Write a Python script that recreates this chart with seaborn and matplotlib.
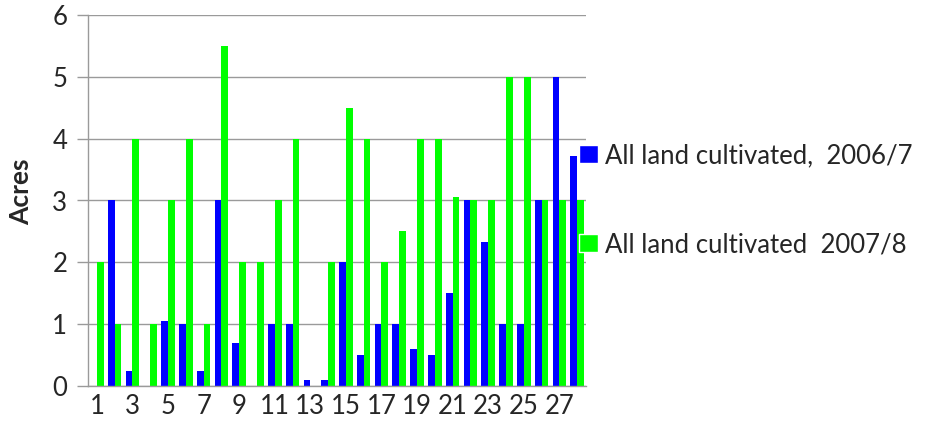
import matplotlib
matplotlib.use("Agg")
import matplotlib.pyplot as plt
import seaborn as sns
import pandas as pd
from matplotlib.patches import Patch
from matplotlib.ticker import FixedLocator

# | Data |---------------------------------------------------------------------|
categories = [str(i) for i in range(1, 29)]
acres_2006 = [0, 3, 0.25, 0, 1.05, 1, 0.25, 3, 0.7, 0,
              1, 1, 0.1, 0.1, 2, 0.5, 1, 1, 0.6, 0.5,
              1.5, 3, 2.33, 1, 1, 3, 5, 3.72]
acres_2007 = [2, 1, 4, 1, 3, 4, 1, 5.5, 2, 2,
              3, 4, 0, 2, 4.5, 4, 2, 2.5, 4, 4,
              3.05, 3, 3, 5, 5, 3, 3, 3]
series_names = ["All land cultivated,  2006/7", "All land cultivated  2007/8"]
tick_labels = [c if int(c) % 2 == 1 else "" for c in categories]

BLUE = "#0000FF"
GREEN = "#00FF00"
GRID = "#9a9a9a"

df = pd.DataFrame({
    "cat": categories * 2,
    "series": [series_names[0]] * len(categories) + [series_names[1]] * len(categories),
    "value": acres_2006 + acres_2007,
})

sns.set_style("white")
plt.rcParams["font.family"] = ["Lato", "DejaVu Sans"]

fig = plt.figure(figsize=(9.26, 4.44), dpi=100)
ax = fig.add_axes([88 / 926, 1 - 386 / 444, 498 / 926, 371 / 444])

sns.barplot(data=df, x="cat", y="value", hue="series", order=categories,
            hue_order=series_names, palette=[BLUE, GREEN], width=0.76,
            saturation=1, legend=False, ax=ax, linewidth=0)

ax.set_xlim(-0.5, len(categories) - 0.5)
ax.set_ylim(0, 6)
ax.set_yticks(range(0, 7))
ax.yaxis.grid(True, color=GRID, linewidth=1)
ax.set_axisbelow(True)

ax.set_xticks(range(len(categories)))
ax.set_xticklabels(tick_labels, fontsize=18.5)
ax.xaxis.set_minor_locator(FixedLocator([i - 0.5 for i in range(len(categories) + 1)]))
ax.tick_params(axis="x", which="major", length=0, pad=6)
ax.tick_params(axis="x", which="minor", length=7, color=GRID, width=1, direction="out")
ax.tick_params(axis="y", length=8, color=GRID, width=1, direction="out", labelsize=18.5, pad=7)
ax.tick_params(axis="both", bottom=True, left=True)

for side in ["top", "right"]:
    ax.spines[side].set_visible(False)
for side in ["left", "bottom"]:
    ax.spines[side].set_color(GRID)
    ax.spines[side].set_linewidth(1)

ax.set_xlabel("")
ax.set_ylabel("Acres", fontsize=19, fontweight="bold")
ax.yaxis.set_label_coords(-0.11, 0.523)

handles = [Patch(facecolor=BLUE), Patch(facecolor=GREEN)]
fig.legend(handles, series_names, loc="upper left", bbox_to_anchor=(579 / 926, 1 - 143 / 444),
           frameon=False, fontsize=18.5, handlelength=0.72, handleheight=0.72,
           handletextpad=0.3, labelspacing=2.5, borderpad=0, borderaxespad=0)

fig.savefig("out.png", dpi=100)
